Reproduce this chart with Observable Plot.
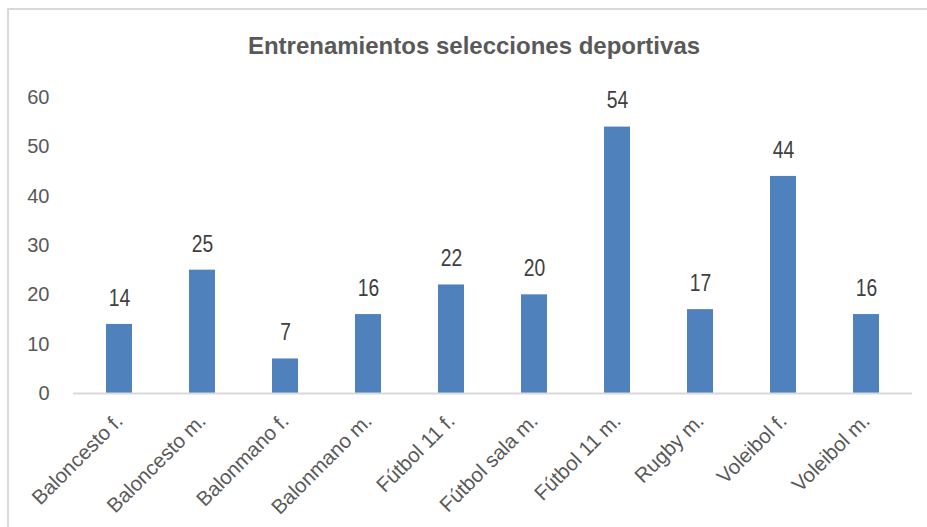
<!DOCTYPE html>
<html>
<head>
<meta charset="utf-8">
<script src="https://cdn.jsdelivr.net/npm/d3@7"></script>
<script src="https://cdn.jsdelivr.net/npm/@observablehq/plot@0.6"></script>
<style>
  html, body { margin: 0; padding: 0; background: #fff; overflow: hidden; }
  #wrap { position: relative; width: 927px; height: 527px; }
  #frame { position: absolute; left: 7px; top: 8px; width: 1000px; height: 1000px;
           border-left: 2px solid #d9d9d9; border-top: 2px solid #d9d9d9; }
  #title { position: absolute; left: 0; width: 948px; top: 31px; text-align: center;
           font-family: "Liberation Sans Narrow", "Arial Narrow", "Liberation Sans", sans-serif;
           font-weight: bold; font-size: 24px; color: #595959; line-height: 30px; }
  #chart { position: absolute; left: 0; top: 0; }
</style>
</head>
<body>
<div id="wrap">
  <div id="frame"></div>
  <div id="title">Entrenamientos selecciones deportivas</div>
  <div id="chart"></div>
</div>
<script>
const categories = ["Baloncesto f.", "Baloncesto m.", "Balonmano f.", "Balonmano m.", "Fútbol 11 f.", "Fútbol sala m.", "Fútbol 11 m.", "Rugby m.", "Voleibol f.", "Voleibol m."];
const values = [14, 25, 7, 16, 22, 20, 54, 17, 44, 16];
const yTicks = [0, 10, 20, 30, 40, 50, 60];

const data = categories.map((c, i) => ({category: c, value: values[i]}));

const chart = Plot.plot({
  width: 927,
  height: 527,
  marginTop: 97,
  marginBottom: 134,
  marginLeft: 73,
  marginRight: 15,
  style: {background: "transparent", color: "#595959", overflow: "visible"},
  x: {domain: categories, paddingInner: 0.69, paddingOuter: 0.345, label: null},
  y: {domain: [0, 60], label: null},
  marks: [
    Plot.barY(data, {x: "category", y: "value", fill: "#4f81bd"}),
    Plot.ruleY([0], {stroke: "#d9d9d9", strokeWidth: 2}),
    Plot.text(data, {x: "category", y: "value", text: d => String(d.value), dy: -26,
      fill: "#404040", fontSize: 23, className: "vlabel",
      fontFamily: "'Liberation Sans Narrow', 'Arial Narrow', sans-serif"}),
    Plot.axisY({ticks: yTicks, tickSize: 0, tickPadding: 24, fontSize: 20,
      fontFamily: "'Liberation Sans', Arial, sans-serif", fill: "#595959", label: null}),
    Plot.axisX({tickSize: 0, tickPadding: 24, tickRotate: -45, fontSize: 20.5,
      fontFamily: "'Liberation Sans', Arial, sans-serif", fill: "#595959", label: null})
  ]
});
// condense the value labels horizontally (narrow face not installed)
d3.select(chart).selectAll(".vlabel text").each(function() {
  const t = this.getAttribute("transform") || "";
  this.setAttribute("transform", t + " scale(0.84,1)");
});
document.getElementById("chart").appendChild(chart);
</script>
</body>
</html>
